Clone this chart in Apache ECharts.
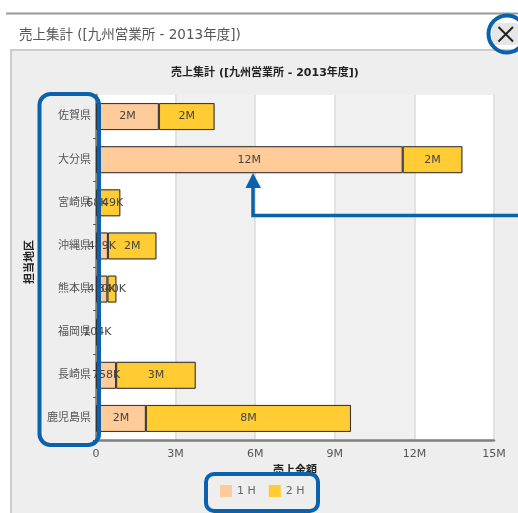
<!DOCTYPE html>
<html>
<head>
<meta charset="utf-8">
<style>html,body{margin:0;padding:0;background:#fff;overflow:hidden}#c{width:518px;height:513px}</style>
<script src="https://cdn.jsdelivr.net/npm/echarts@6/dist/echarts.min.js"></script>
</head>
<body>
<div id="c"></div>
<script>
const chartTitle = '売上集計 ([九州営業所 - 2013年度])';
const categories = ['佐賀県','大分県','宮崎県','沖縄県','熊本県','福岡県','長崎県','鹿児島県'];
const firstHalf  = [2370000,11560000,68000,449000,430000,104000,758000,1880000];
const secondHalf = [2100000,2250000,849000,1830000,340000,null,3000000,7730000];
const FF = '"DejaVu Sans","Noto Sans CJK JP",sans-serif';
const blue = '#0a62ac';
const fmt = v => v >= 1e6 ? Math.round(v/1e6)+'M' : v === 0 ? '0' : Math.round(v/1e3)+'K';
const barStyle = c => ({color:c,borderColor:'#333',borderWidth:1,shadowColor:'rgba(0,0,0,0.2)',shadowBlur:1});
const lab = {show:true,position:'inside',color:'#444',fontSize:11,fontFamily:FF,
  formatter:p=>fmt(p.value)};
const chart = echarts.init(document.getElementById('c'),null,{renderer:'canvas'});
chart.setOption({
  animation:false,
  backgroundColor:'#fff',
  title:{text:chartTitle,left:260,top:63,textAlign:'center',
    textStyle:{fontSize:11,fontWeight:'bold',color:'#222',fontFamily:FF}},
  legend:{left:220,top:485,padding:0,z:6,icon:'rect',itemWidth:12,itemHeight:12,itemGap:13,
    data:['1 H','2 H'],
    itemStyle:{borderWidth:0,shadowBlur:0},
    textStyle:{fontSize:11,color:'#666',fontFamily:FF}},
  grid:{left:96,right:24,top:95,bottom:73},
  xAxis:{type:'value',min:0,max:15000000,interval:3000000,
    name:'売上金額',nameLocation:'middle',nameGap:26,
    nameTextStyle:{fontSize:11,fontWeight:'bold',color:'#222',fontFamily:FF},
    axisLine:{show:true,lineStyle:{color:'#808080',width:2.5}},
    axisTick:{show:false},
    axisLabel:{color:'#555',fontSize:11,fontFamily:FF,margin:9,formatter:fmt},
    splitLine:{show:true,lineStyle:{color:'#e2e2e2',width:2}},
    splitArea:{show:true,areaStyle:{color:['#ffffff','#f0f0f0']}}},
  yAxis:{type:'category',inverse:true,data:categories,
    name:'担当地区',nameLocation:'middle',nameGap:54,nameRotate:90,
    nameTextStyle:{fontSize:11,fontWeight:'bold',color:'#222',fontFamily:FF,padding:[0,0,0,11]},
    axisLine:{show:true,lineStyle:{color:'#808080',width:2.5}},
    axisTick:{show:true,length:3,lineStyle:{color:'#555'}},
    axisLabel:{color:'#555',fontSize:11,fontFamily:FF,margin:5},
    splitLine:{show:false}},
  series:[
    {name:'1 H',type:'bar',stack:'s',barWidth:27,data:firstHalf,itemStyle:barStyle('#FFCC99'),label:lab},
    {name:'2 H',type:'bar',stack:'s',barWidth:27,data:secondHalf,itemStyle:barStyle('#FFCC33'),label:lab}
  ],
  graphic:[
    {type:'rect',z:-2,shape:{x:11,y:50,width:520,height:480},style:{fill:'#eeeeee',stroke:'#cccccc',lineWidth:2}},
    {type:'rect',z:-2,shape:{x:6,y:12.5,width:512,height:2},style:{fill:'#9a9a9a'}},
    {type:'text',z:-2,style:{text:chartTitle,x:19,y:35,verticalAlign:'middle',fontSize:13.5,fill:'#555',fontFamily:FF}},
    {type:'rect',z:-1,shape:{x:492,y:23,width:26,height:22,r:3},style:{fill:'#e6e6e6'}},
    {type:'line',z:-1,shape:{x1:498.5,y1:27,x2:513,y2:41.5},style:{stroke:'#222',lineWidth:2}},
    {type:'line',z:-1,shape:{x1:513,y1:27,x2:498.5,y2:41.5},style:{stroke:'#222',lineWidth:2}},
    {type:'rect',z:3,shape:{x:206,y:474,width:112,height:37,r:8},style:{fill:'#eeeeee',stroke:blue,lineWidth:4}},
    {type:'rect',z:10,shape:{x:39.5,y:94,width:59.5,height:351,r:11},style:{fill:'none',stroke:blue,lineWidth:4}},
    {type:'circle',z:10,shape:{cx:507,cy:34,r:18.5},style:{fill:'none',stroke:blue,lineWidth:4}},
    {type:'polyline',z:10,shape:{points:[[518,215.5],[253,215.5],[253,186]]},style:{fill:'none',stroke:blue,lineWidth:3.5}},
    {type:'polygon',z:10,shape:{points:[[253,173],[261,188],[245.5,188]]},style:{fill:blue}}
  ]
});
</script>
</body>
</html>
